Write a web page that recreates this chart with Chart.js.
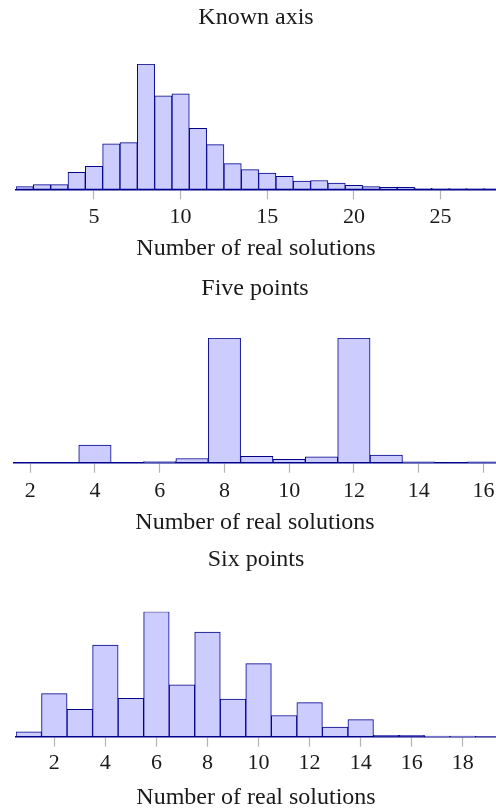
<!DOCTYPE html>
<html>
<head>
<meta charset="utf-8">
<script src="https://cdn.jsdelivr.net/npm/chart.js@4/dist/chart.umd.min.js"></script>
<style>
  html, body { margin: 0; padding: 0; background: #fff; }
  #wrap { position: relative; width: 496px; height: 810px; }
  .panel { position: absolute; left: 0; width: 496px; height: 270px; }
</style>
</head>
<body>
<div id="wrap">
  <div class="panel" style="top:0px"><canvas id="known"></canvas></div>
  <div class="panel" style="top:270px"><canvas id="five"></canvas></div>
  <div class="panel" style="top:540px"><canvas id="six"></canvas></div>
</div>
<script>
// Share of instances (%) by number of real solutions
const knownSolutions = [1, 2, 3, 4, 5, 6, 7, 8, 9, 10, 11, 12, 13, 14, 15, 16, 17, 18, 19, 20, 21, 22, 23, 24, 25, 26, 27, 28];
const knownShare = [0.4, 0.7, 0.7, 2.5, 3.4, 6.7, 6.9, 18.5, 13.8, 14.1, 9.0, 6.6, 3.8, 2.9, 2.4, 1.9, 1.2, 1.3, 0.9, 0.6, 0.4, 0.3, 0.3, 0.15, 0.1, 0.1, 0.1, 0.1];
const knownTicks = [5, 10, 15, 20, 25];

const fiveSolutions = [2, 3, 4, 5, 6, 7, 8, 9, 10, 11, 12, 13, 14, 15, 16];
const fiveShare = [0, 0, 5.9, 0, 0.4, 1.4, 41.9, 2.1, 1.1, 2.0, 41.9, 2.6, 0.3, 0, 0.3];
const fiveTicks = [2, 4, 6, 8, 10, 12, 14, 16];

const sixSolutions = [1, 2, 3, 4, 5, 6, 7, 8, 9, 10, 11, 12, 13, 14, 15, 16, 17, 18, 19];
const sixShare = [0.7, 6.3, 4.0, 13.4, 5.6, 18.3, 7.6, 15.3, 5.5, 10.7, 3.1, 5.0, 1.4, 2.5, 0.2, 0.2, 0.1, 0.1, 0.07];
const sixTicks = [2, 4, 6, 8, 10, 12, 14, 16, 18];

const FONT = "'Liberation Serif', 'Times New Roman', serif";
const TEXT = '#1a1a1a';

function histogram(id, cfg) {
  const points = cfg.x.map((v, i) => ({ x: v, y: cfg.y[i] }));
  return new Chart(document.getElementById(id), {
    type: 'bar',
    data: {
      datasets: [{
        data: points,
        backgroundColor: '#ccccff',
        borderColor: '#00008b',
        borderWidth: 1,
        borderSkipped: false,
        barPercentage: 1,
        categoryPercentage: 1
      }]
    },
    options: {
      responsive: true,
      maintainAspectRatio: false,
      animation: false,
      events: [],
      layout: { padding: { left: cfg.left, right: 0, top: 0, bottom: 0 } },
      plugins: {
        legend: { display: false },
        tooltip: { enabled: false },
        title: {
          display: true,
          text: cfg.title,
          color: TEXT,
          font: { family: FONT, size: 24, weight: 'normal', lineHeight: 1 },
          padding: { top: cfg.titleTop, bottom: cfg.titleBottom }
        }
      },
      scales: {
        x: {
          type: 'linear',
          min: cfg.min,
          max: cfg.max,
          offset: false,
          grid: {
            display: true,
            offset: false,
            drawOnChartArea: false,
            drawTicks: true,
            tickLength: 10,
            tickColor: '#b4b4b4',
            tickWidth: 1.2
          },
          border: { display: true, color: '#00008b', width: 1.6 },
          ticks: {
            autoSkip: false,
            maxRotation: 0,
            padding: cfg.tickPad,
            color: TEXT,
            font: { family: FONT, size: 22, lineHeight: 1 }
          },
          title: {
            display: true,
            text: 'Number of real solutions',
            color: TEXT,
            font: { family: FONT, size: 24, lineHeight: 1 },
            padding: { top: 0, bottom: cfg.axisTitleBottom }
          },
          afterBuildTicks: s => { s.ticks = cfg.ticks.map(v => ({ value: v })); },
          afterFit: s => {
            s.height = cfg.axisHeight;
            s.paddingLeft = 0;
            s.paddingRight = 0;
          }
        },
        y: {
          display: false,
          min: 0,
          max: Math.max(...cfg.y)
        }
      }
    }
  });
}

histogram('known', {
  title: 'Known axis', x: knownSolutions, y: knownShare, ticks: knownTicks,
  min: 0.5, max: 28.2, left: 16,
  titleTop: 6, titleBottom: 34, axisHeight: 80.7, tickPad: 6.7, axisTitleBottom: 9
});

histogram('five', {
  title: 'Five points', x: fiveSolutions, y: fiveShare, ticks: fiveTicks,
  min: 1.5, max: 16.39, left: 14,
  titleTop: 6.5, titleBottom: 37.5, axisHeight: 77.3, tickPad: 7.8, axisTitleBottom: 5
});

histogram('six', {
  title: 'Six points', x: sixSolutions, y: sixShare, ticks: sixTicks,
  min: 0.5, max: 19.3, left: 16,
  titleTop: 8, titleBottom: 39.7, axisHeight: 73.3, tickPad: 5.8, axisTitleBottom: 0
});
</script>
</body>
</html>
